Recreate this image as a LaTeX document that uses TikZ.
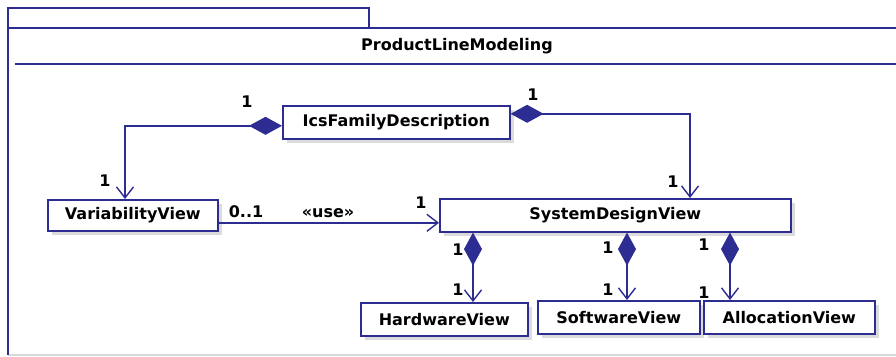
\documentclass[tikz,border=0pt]{standalone}
\usepackage{fontspec}
\setmainfont{DejaVu Sans}
\usetikzlibrary{arrows.meta,shadows}
\definecolor{umlblue}{RGB}{44,44,146}
\newcommand\umlfont{\fontsize{16}{19}\selectfont\bfseries}
\begin{document}
\begin{tikzpicture}[x=1pt,y=-1pt,
  cls/.style={draw=umlblue, line width=1.6pt, fill=white, anchor=north west,
    inner sep=0pt, font=\umlfont,
    drop shadow={shadow xshift=4pt, shadow yshift=-4pt, fill=black!14, opacity=1}},
  link/.style={draw=umlblue, line width=1.6pt},
  openhead/.style={-{Straight Barb[length=11pt,width=17pt,line width=1.4pt]}},
  comp/.style={link, {Diamond[length=33pt,width=18pt,fill=umlblue]}-{Straight Barb[length=11pt,width=17pt,line width=1.4pt]}},
  mult/.style={font=\umlfont, text=black, inner sep=0pt}
]
\useasboundingbox (0,0) rectangle (896,356);

% package frame with its tab and title compartment
\draw[black!15, line width=1.5pt] (8,355) -- (896,355);
\draw[link] (8,355) -- (8,8) -- (369,8) -- (369,28);
\draw[link] (8,28) -- (896,28);
\draw[link] (15,64) -- (896,64);
\node[mult] (title) at (457,46) {ProductLineModeling};

% classes
\node[cls, minimum width=227pt, minimum height=33pt] (ics) at (282,105) {IcsFamilyDescription};
\node[cls, minimum width=170pt, minimum height=31pt] (var) at (47,199) {VariabilityView};
\node[cls, minimum width=351pt, minimum height=33pt] (sdv) at (439,198) {SystemDesignView};
\node[cls, minimum width=167pt, minimum height=33pt] (hw) at (360,302) {HardwareView};
\node[cls, minimum width=162pt, minimum height=33pt] (sw) at (537,300) {SoftwareView};
\node[cls, minimum width=171pt, minimum height=33pt] (alloc) at (703,300) {AllocationView};

% compositions from IcsFamilyDescription
\draw[comp] ([yshift=-3.5pt]ics.west) -| ([xshift=78pt]var.north west);
\draw[comp] ([yshift=8.5pt]ics.east) -| ([xshift=251pt]sdv.north west);

% usage dependency
\coordinate (usestart) at ([yshift=-7.5pt]var.east);
\draw[link, openhead] (usestart) -- (usestart -| sdv.west);

% compositions from SystemDesignView
\draw[comp] (sdv.south -| 473,0) -- (hw.north -| 473,0);
\draw[comp] (sdv.south -| 627,0) -- (sw.north -| 627,0);
\draw[comp] (sdv.south -| 730,0) -- (alloc.north -| 730,0);

% multiplicities and stereotype
\node[mult] (m1) at (247,102) {1};
\node[mult] (m2) at (105,181) {1};
\node[mult] (m3) at (533,95) {1};
\node[mult] (m4) at (673,182) {1};
\node[mult] (m5) at (246,212) {0..1};
\node[mult] (st) at (328,213) {«use»};
\node[mult] (m6) at (421,203) {1};
\node[mult] (m7) at (458,250) {1};
\node[mult] (m8) at (458,290) {1};
\node[mult] (m9) at (608,248) {1};
\node[mult] (m10) at (608,290) {1};
\node[mult] (m11) at (704,245) {1};
\node[mult] (m12) at (704,293) {1};
\end{tikzpicture}
\end{document}
